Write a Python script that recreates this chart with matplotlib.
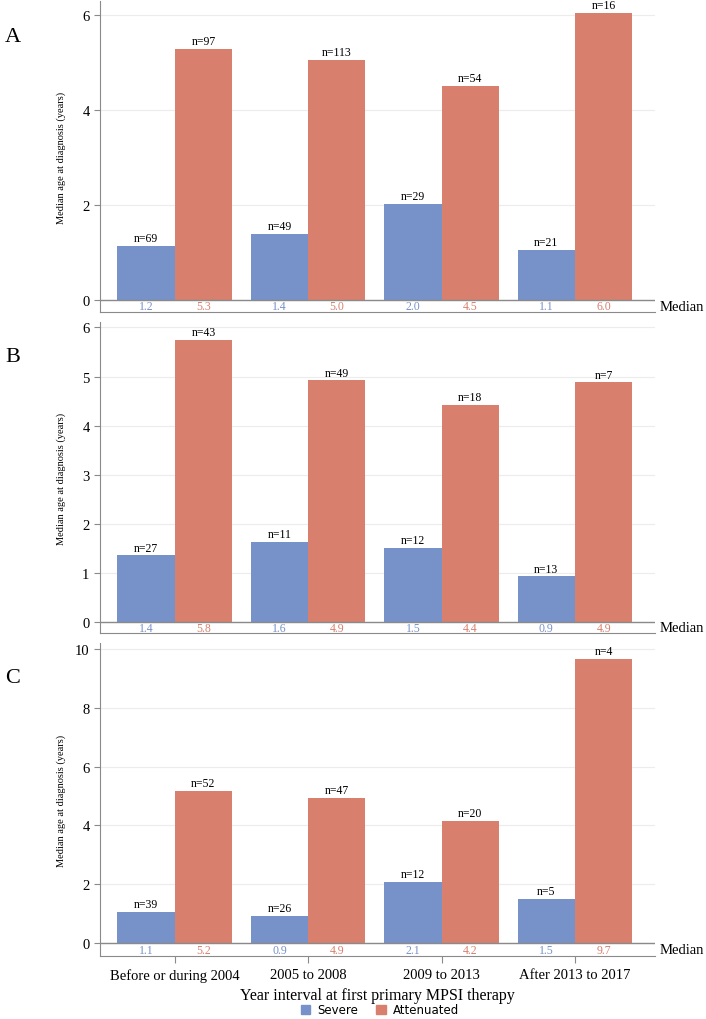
import matplotlib
matplotlib.use("Agg")
import matplotlib.pyplot as plt
import numpy as np
from matplotlib.patches import Patch

plt.rcParams['font.family'] = ['Liberation Serif', 'DejaVu Serif']

categories = ["Before or during 2004", "2005 to 2008", "2009 to 2013", "After 2013 to 2017"]
panels = ["A", "B", "C"]

severe_A = [1.14, 1.39, 2.02, 1.05]
atten_A = [5.28, 5.05, 4.50, 6.04]
severe_n_A = ["n=69", "n=49", "n=29", "n=21"]
atten_n_A = ["n=97", "n=113", "n=54", "n=16"]
severe_med_A = ["1.2", "1.4", "2.0", "1.1"]
atten_med_A = ["5.3", "5.0", "4.5", "6.0"]

severe_B = [1.36, 1.63, 1.52, 0.93]
atten_B = [5.74, 4.92, 4.42, 4.88]
severe_n_B = ["n=27", "n=11", "n=12", "n=13"]
atten_n_B = ["n=43", "n=49", "n=18", "n=7"]
severe_med_B = ["1.4", "1.6", "1.5", "0.9"]
atten_med_B = ["5.8", "4.9", "4.4", "4.9"]

severe_C = [1.06, 0.93, 2.07, 1.50]
atten_C = [5.17, 4.93, 4.15, 9.66]
severe_n_C = ["n=39", "n=26", "n=12", "n=5"]
atten_n_C = ["n=52", "n=47", "n=20", "n=4"]
severe_med_C = ["1.1", "0.9", "2.1", "1.5"]
atten_med_C = ["5.2", "4.9", "4.2", "9.7"]

yticks_A = [0, 2, 4, 6]
yticks_B = [0, 1, 2, 3, 4, 5, 6]
yticks_C = [0, 2, 4, 6, 8, 10]

series_names = ["Severe", "Attenuated"]
c_sev = "#7791c9"
c_att = "#d97f6d"

data = [
    (severe_A, atten_A, severe_n_A, atten_n_A, severe_med_A, atten_med_A, yticks_A, (-0.25, 6.29)),
    (severe_B, atten_B, severe_n_B, atten_n_B, severe_med_B, atten_med_B, yticks_B, (-0.22, 6.11)),
    (severe_C, atten_C, severe_n_C, atten_n_C, severe_med_C, atten_med_C, yticks_C, (-0.44, 10.2)),
]

W, H = 706, 1020
fig = plt.figure(figsize=(W / 100, H / 100), dpi=100)

ax_px = [(2, 313), (323, 634), (644, 957)]
left_px, right_px = 100, 655
x = np.arange(len(categories))
bw = 0.43
gray = "#8a8a8a"

for i, (sv, av, sn, an, sm, am, yt, yl) in enumerate(data):
    top, bot = ax_px[i]
    ax = fig.add_axes([left_px / W, 1 - bot / H, (right_px - left_px) / W, (bot - top) / H])
    ax.set_xlim(-0.56, 3.6)
    ax.set_ylim(*yl)
    for t in yt:
        ax.axhline(t, color="#ececec", lw=0.8, zorder=0)
    ax.bar(x - bw / 2, sv, bw, color=c_sev, zorder=2)
    ax.bar(x + bw / 2, av, bw, color=c_att, zorder=2)
    ax.axhline(0, color=gray, lw=1.0, zorder=3)
    span = yl[1] - yl[0]
    for j in range(len(categories)):
        ax.text(x[j] - bw / 2, sv[j] + span * 0.006, sn[j], ha="center", va="bottom", fontsize=8.5)
        ax.text(x[j] + bw / 2, av[j] + span * 0.006, an[j], ha="center", va="bottom", fontsize=8.5)
        ax.text(x[j] - bw / 2, yl[0] / 2, sm[j], ha="center", va="center", fontsize=8.5, color=c_sev)
        ax.text(x[j] + bw / 2, yl[0] / 2, am[j], ha="center", va="center", fontsize=8.5, color=c_att)
    ax.text(1.008, (yl[0] / 2 - yl[0]) / span, "Median", transform=ax.transAxes,
            ha="left", va="center", fontsize=10.5)
    ax.set_yticks(yt)
    ax.set_yticklabels([str(t) for t in yt], fontsize=10.5)
    ax.set_xticks(x)
    if i == 2:
        ax.set_xticklabels(categories, fontsize=10.5)
        ax.set_xlabel("Year interval at first primary MPSI therapy", fontsize=11.5, labelpad=4)
    else:
        ax.set_xticklabels([])
    ax.tick_params(axis="both", color=gray, length=4, width=0.8)
    ax.tick_params(axis="x", length=5 if i == 2 else 0)
    for s in ["top", "right"]:
        ax.spines[s].set_visible(False)
    for s in ["left", "bottom"]:
        ax.spines[s].set_color(gray)
        ax.spines[s].set_linewidth(0.8)
    ax.set_ylabel("Median age at diagnosis (years)", fontsize=7.5)
    ax.yaxis.set_label_coords(-0.062, 0.5)
    fig.text(5 / W, 1 - (ax_px[i][0] + 35) / H, panels[i], fontsize=16, ha="left", va="center")

handles = [Patch(color=c_sev, label=series_names[0]), Patch(color=c_att, label=series_names[1])]
fig.legend(handles=handles, loc="center", bbox_to_anchor=(380 / W, 1 - 1011 / H), ncol=2,
           frameon=False, handlelength=0.8, handleheight=0.8, columnspacing=1.5,
           handletextpad=0.6, prop={'family': 'DejaVu Sans', 'size': 8.5})

fig.savefig("out.png", dpi=100)
